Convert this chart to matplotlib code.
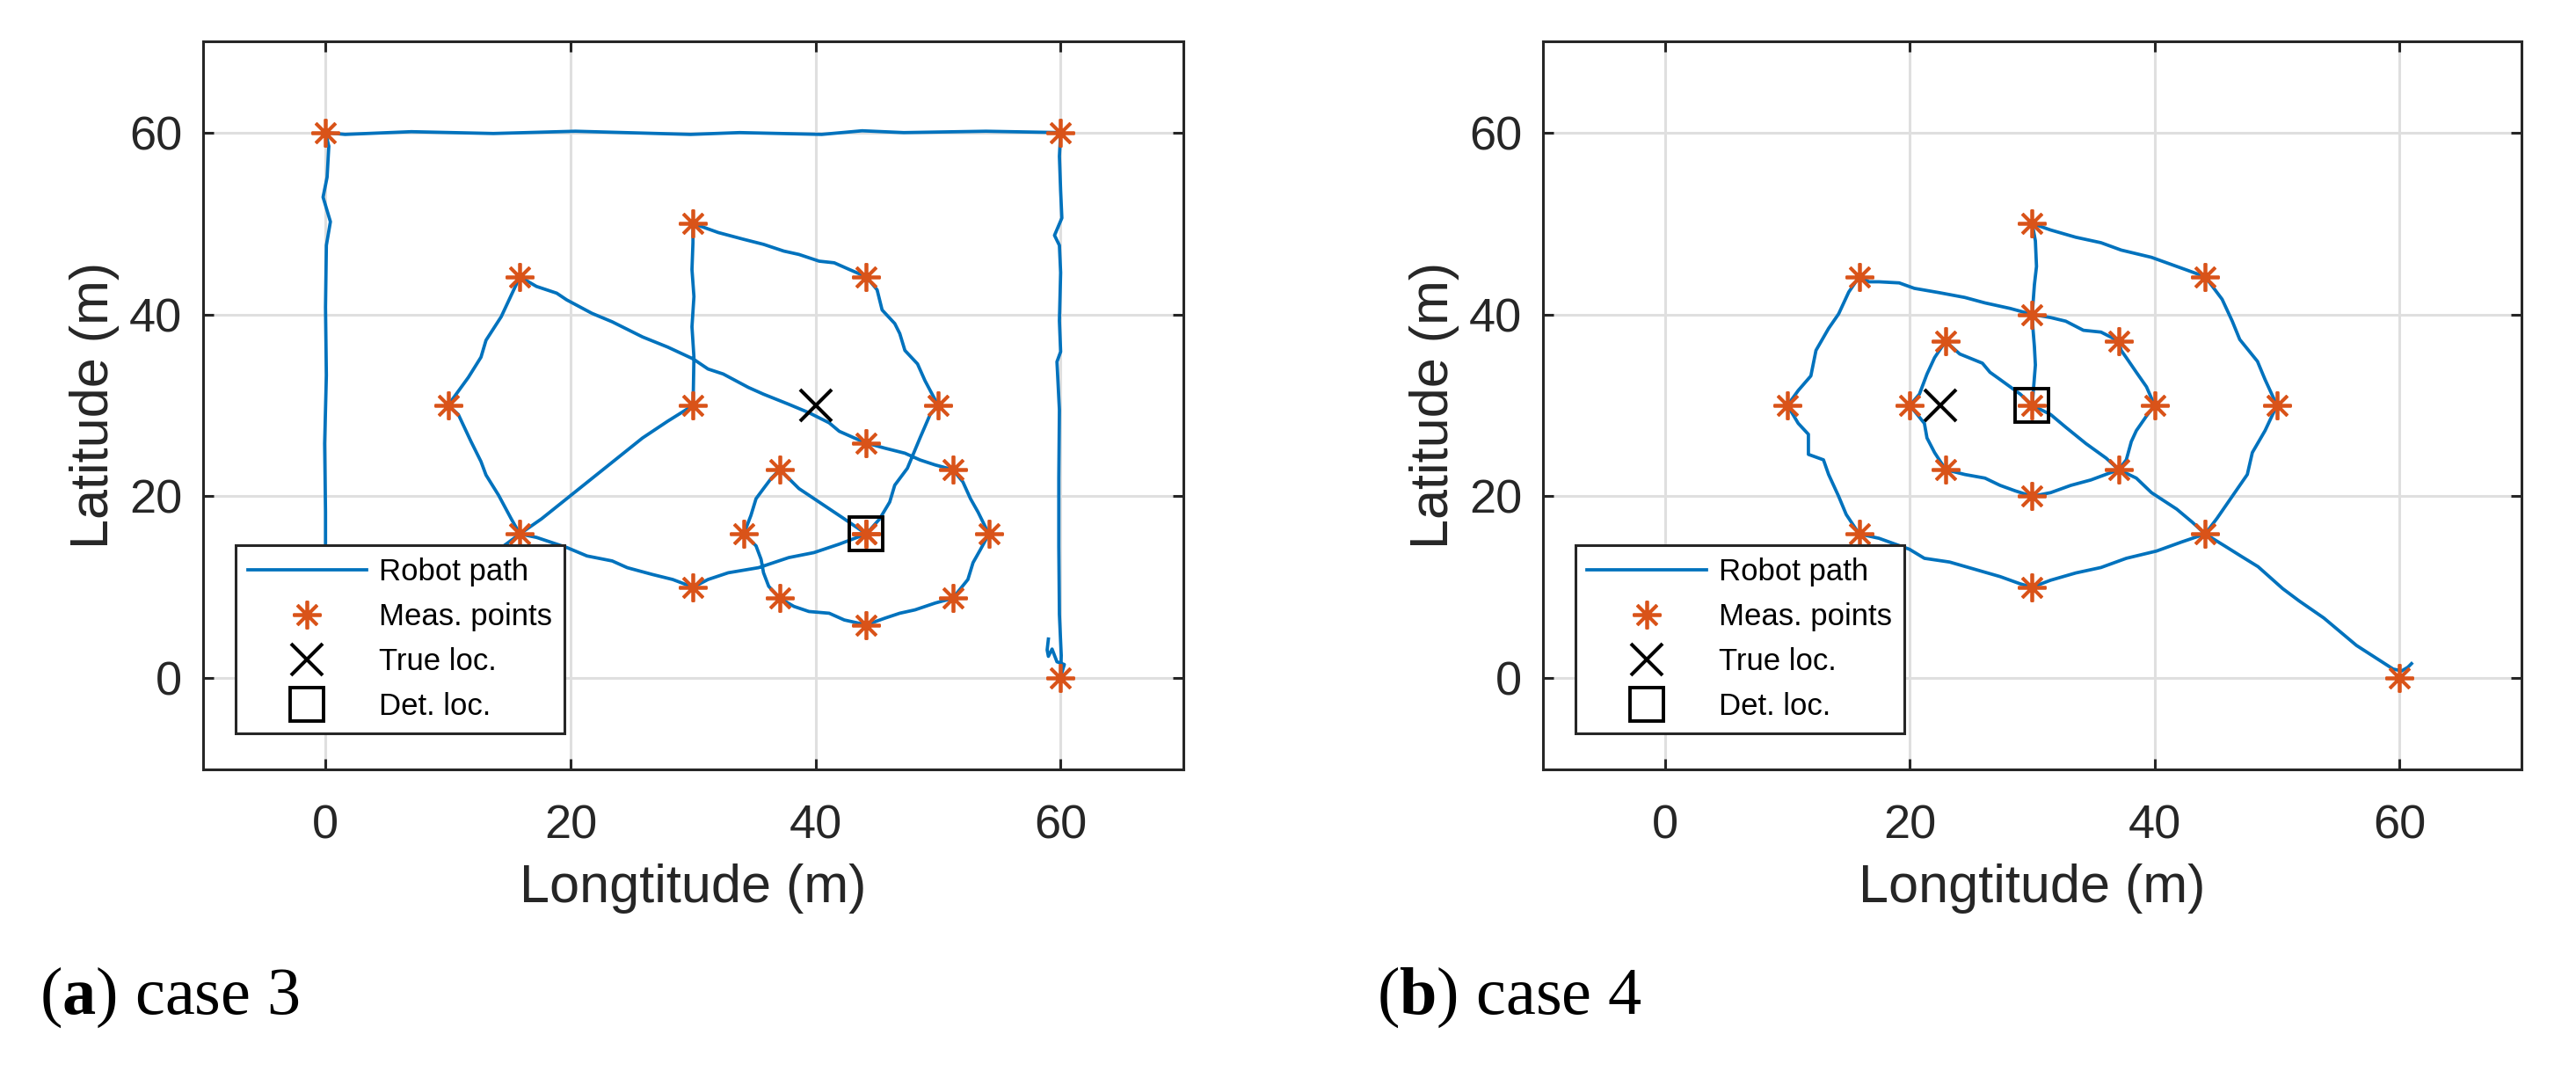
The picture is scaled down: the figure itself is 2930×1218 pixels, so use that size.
import matplotlib.pyplot as plt

# case 3 (left panel): robot path, (x, y) in metres
path3 = [(59.0, 4.3), (58.9, 3.1), (59.0, 2.4), (59.3, 3.2), (59.7, 1.8), (60.3, 1.5), (60.1, 0.6), (60.0, 0.0),
         (60.05, 2.5), (59.9, 7.0), (59.85, 14.5), (59.85, 22.0), (59.9, 29.5), (59.7, 34.8), (60.0, 35.9),
         (59.9, 39.3), (60.0, 44.6), (59.9, 47.6), (59.5, 48.7), (60.1, 50.6), (60.0, 53.6), (59.9, 57.4), (60.0, 60.0),
         (53.9, 60.15), (47.2, 60.0), (43.8, 60.2), (40.5, 59.8), (33.8, 60.0), (29.8, 59.8), (20.4, 60.15),
         (13.7, 59.9), (7.0, 60.1), (1.6, 59.8), (0.0, 60.0),
         (0.27, 58.5), (0.13, 55.1), (-0.2, 52.9), (0.4, 50.2), (0.07, 47.6), (0.0, 40.8), (0.07, 33.3),
         (-0.07, 25.8), (0.0, 18.3), (0.0, 13.9), (0.0, 8.0), (0.1, 1.0),
         (4.0, 4.2), (9.0, 9.1), (14.1, 14.1), (15.86, 15.86),
         (17.22, 15.48), (19.69, 14.37), (21.34, 13.44), (23.4, 12.89), (24.63, 12.15), (26.69, 11.4),
         (28.34, 10.85), (30.0, 10.0),
         (31.22, 10.85), (32.87, 11.59), (35.34, 12.15), (37.81, 13.26), (39.87, 13.81), (41.93, 14.74), (44.14, 15.86),
         (45.23, 17.52), (46.05, 19.37), (46.46, 21.22), (47.49, 23.08), (48.52, 26.41), (49.35, 29.0), (50.0, 30.0),
         (48.93, 32.71), (48.32, 34.56), (47.29, 36.04), (46.87, 37.9), (46.46, 39.0), (45.43, 40.49),
         (45.02, 42.71), (44.14, 44.14),
         (42.76, 44.94), (41.52, 45.68), (40.29, 45.86), (38.64, 46.6), (37.4, 46.97), (35.75, 47.71),
         (34.11, 48.27), (32.05, 49.01), (30.0, 50.0),
         (29.99, 47.9), (29.91, 44.94), (30.07, 41.97), (29.91, 38.64), (30.07, 35.3), (30.0, 30.0),
         (27.93, 28.26), (25.87, 26.41), (23.81, 24.19), (21.75, 21.96), (19.69, 19.74), (17.63, 17.52), (15.86, 15.86),
         (15.16, 17.52), (14.13, 20.11), (13.1, 22.34), (12.69, 23.82), (11.87, 26.04), (10.84, 29.0), (10.0, 30.0),
         (11.66, 33.08), (12.69, 35.3), (13.1, 37.16), (14.34, 39.75), (15.37, 42.71), (15.86, 44.14),
         (17.22, 43.08), (18.87, 42.34), (19.69, 41.6), (21.75, 40.12), (23.4, 39.19), (25.87, 37.53),
         (27.93, 36.41), (29.99, 35.12), (31.22, 34.0), (32.46, 33.45), (34.52, 31.97), (35.75, 31.23),
         (37.81, 30.12), (39.46, 29.19), (41.11, 28.08), (41.93, 27.15), (43.17, 26.41), (44.14, 25.86),
         (45.64, 25.3), (47.29, 24.74), (48.52, 24.0), (49.76, 23.45), (51.2, 22.93),
         (52.02, 21.59), (52.64, 19.74), (53.26, 18.26), (53.67, 17.15), (54.14, 15.86),
         (53.47, 14.18), (52.85, 12.7), (52.43, 10.85), (51.2, 8.79),
         (49.76, 8.26), (48.11, 7.51), (46.87, 7.14), (45.64, 6.59), (44.14, 5.86),
         (42.34, 6.4), (41.11, 7.14), (39.46, 7.33), (38.23, 7.89), (37.07, 8.79),
         (36.17, 10.11), (35.75, 11.59), (35.55, 13.07), (35.14, 14.55), (34.14, 15.86),
         (34.72, 17.89), (35.14, 19.74), (35.75, 20.85), (36.37, 21.96), (37.07, 22.93),
         (37.81, 21.96), (38.64, 20.85), (39.87, 19.74), (41.11, 18.63), (42.34, 17.52), (44.14, 15.86)]

meas3_x = [0, 60, 60, 10, 15.86, 30, 44.14, 50, 44.14, 30, 15.86, 30,
           34.14, 37.07, 44.14, 51.2, 54.14, 51.2, 44.14, 37.07, 44.14]
meas3_y = [60, 60, 0, 30, 44.14, 50, 44.14, 30, 15.86, 10, 15.86, 30,
           15.86, 22.93, 25.86, 22.93, 15.86, 8.79, 5.86, 8.79, 15.86]
true3 = (40, 30)
det3 = (44.14, 15.86)

# case 4 (right panel)
path4 = [(61.0, 1.6), (60.7, 1.2), (60.2, 0.8), (59.5, 1.0),
         (56.5, 3.6), (53.83, 6.62), (51.81, 8.5), (50.47, 9.85), (48.46, 12.26), (47.11, 13.38),
         (45.77, 14.51), (44.14, 15.86),
         (45.11, 17.59), (46.35, 20.0), (47.58, 22.4), (47.99, 24.81), (49.03, 27.22), (50.0, 30.0),
         (49.03, 32.84), (48.41, 34.84), (46.96, 37.25), (46.35, 39.26), (45.52, 41.67), (44.14, 44.14),
         (42.64, 44.88), (41.4, 45.48), (39.75, 46.28), (37.27, 47.08), (35.62, 47.89), (33.56, 48.49),
         (31.5, 49.29), (30.0, 50.0),
         (30.26, 48.09), (30.35, 45.28), (30.18, 43.27), (30.0, 40.0),
         (28.2, 40.66), (26.14, 41.27), (24.49, 41.87), (22.43, 42.39), (20.37, 42.87), (19.13, 43.47),
         (17.48, 43.59), (16.66, 43.59), (15.86, 44.14),
         (15.01, 42.47), (14.18, 40.06), (13.36, 38.46), (12.33, 36.05), (11.91, 33.24), (10.88, 31.64), (10.0, 30.0),
         (10.88, 28.02), (11.71, 26.82), (11.71, 24.61), (12.94, 24.01), (13.36, 22.4), (14.18, 20.0),
         (14.8, 18.0), (15.86, 15.86),
         (17.48, 15.38), (19.96, 14.18), (21.19, 13.18), (23.25, 12.77), (25.32, 11.97), (27.38, 11.17),
         (29.03, 10.37), (30.0, 10.0),
         (31.5, 10.77), (33.56, 11.57), (35.62, 12.17), (37.69, 13.18), (40.16, 13.98), (42.22, 14.98), (44.14, 15.86),
         (43.05, 17.19), (41.81, 18.59), (39.75, 20.4), (38.51, 22.0), (37.07, 22.93),
         (37.69, 24.01), (38.1, 26.02), (38.51, 27.22), (39.34, 28.83), (40.0, 30.0),
         (39.34, 32.04), (38.51, 33.64), (37.69, 35.25), (37.27, 36.05), (37.07, 37.07),
         (35.62, 38.06), (34.18, 38.26), (32.74, 39.26), (31.5, 39.66), (30.0, 40.0),
         (30.06, 38.46), (30.18, 36.45), (30.26, 34.44), (30.0, 30.0),
         (31.5, 29.0), (32.74, 27.6), (34.39, 25.8), (36.04, 24.2), (37.07, 22.93),
         (34.8, 21.8), (33.15, 21.2), (31.5, 20.4), (30.0, 20.0),
         (28.61, 20.6), (27.38, 21.2), (26.14, 22.0), (24.49, 22.4), (22.93, 22.93),
         (22.02, 24.81), (21.4, 26.42), (21.19, 28.02), (20.0, 30.0),
         (20.78, 31.23), (21.4, 33.44), (22.02, 35.25), (22.93, 37.07),
         (23.25, 36.65), (24.08, 35.65), (25.93, 34.64), (26.55, 33.64), (27.38, 32.84), (29.03, 31.23), (30.0, 30.0)]

meas4_x = [60, 10, 15.86, 30, 44.14, 50, 44.14, 30, 15.86,
           20, 22.93, 30, 37.07, 40, 37.07, 30, 22.93, 30]
meas4_y = [0, 30, 44.14, 50, 44.14, 30, 15.86, 10, 15.86,
           30, 37.07, 40, 37.07, 30, 22.93, 20, 22.93, 30]
true4 = (22.5, 30)
det4 = (30, 30)

ticks = [0, 20, 40, 60]
captions = [r'($\mathbf{a}$) case 3', r'($\mathbf{b}$) case 4']

plt.rcParams['font.family'] = ['Liberation Sans', 'DejaVu Sans']
plt.rcParams['mathtext.fontset'] = 'custom'
plt.rcParams['mathtext.rm'] = 'Liberation Serif'
plt.rcParams['mathtext.bf'] = 'Liberation Serif:bold'

dark = '#262626'

fig = plt.figure(figsize=(29.3, 12.18), dpi=100)
ax1 = fig.add_axes([0.0788, 0.2819, 0.3805, 0.6792])
ax2 = fig.add_axes([0.5989, 0.2819, 0.3800, 0.6792])


def draw(ax, path, mx, my, true_xy, det_xy):
    px = [p[0] for p in path]
    py = [p[1] for p in path]
    ax.plot(px, py, color='#0072BD', lw=2.7, label='Robot path')
    ax.plot(mx, my, ls='none', marker=(8, 2, 0), ms=23, mew=2.7,
            color='#D95319', label='Meas. points')
    ax.plot([true_xy[0]], [true_xy[1]], ls='none', marker='x', ms=26, mew=2.9,
            color='black', label='True loc.')
    ax.plot([det_xy[0]], [det_xy[1]], ls='none', marker='s', ms=27, mew=2.8,
            mfc='none', mec='black', label='Det. loc.')

    ax.set_xlim(-10, 70)
    ax.set_ylim(-10, 70)
    ax.set_xticks(ticks)
    ax.set_yticks(ticks)
    ax.grid(True, color='#DFDFDF', lw=2.2)
    ax.set_axisbelow(True)
    ax.tick_params(direction='in', length=8.6, width=2.2, top=True, right=True,
                   labelsize=39, colors=dark)
    ax.tick_params(axis='x', pad=29)
    ax.tick_params(axis='y', pad=17)
    for s in ax.spines.values():
        s.set_linewidth(2.2)
        s.set_color(dark)
    ax.set_xlabel('Longtitude (m)', fontsize=44, color=dark, labelpad=12)
    ax.set_ylabel('Latitude (m)', fontsize=44, color=dark, labelpad=8)

    leg = ax.legend(loc='lower left', bbox_to_anchor=(0.033, 0.049), borderaxespad=0,
                    fontsize=25, handlelength=3.9, handletextpad=0.4, labelspacing=0.52,
                    borderpad=0.4, fancybox=False, framealpha=1, edgecolor=dark)
    leg.get_frame().set_linewidth(2.2)


draw(ax1, path3, meas3_x, meas3_y, true3, det3)
draw(ax2, path4, meas4_x, meas4_y, true4, det4)

fig.text(0.0154, 0.0534, captions[0], fontsize=55, va='baseline', family='Liberation Serif')
fig.text(0.5345, 0.0534, captions[1], fontsize=55, va='baseline', family='Liberation Serif')

fig.savefig('out.png', dpi=100)
